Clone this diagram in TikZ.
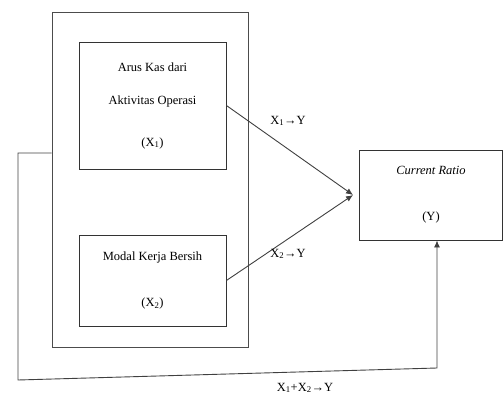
\documentclass[tikz,border=0pt]{standalone}
\usepackage{fontspec}
\setmainfont{Liberation Serif}
\usetikzlibrary{arrows.meta,positioning}

\tikzset{
  varbox/.style={draw=black!80, line width=.9pt, align=center,
                 inner sep=0pt, minimum width=147pt},
  link/.style={draw=black!75, line width=.9pt},
  tip/.style={-{Latex[length=7pt,width=6pt]}}
}

\begin{document}
\begin{tikzpicture}[x=1pt,y=-1pt,every node/.append style={font=\fontsize{12.5}{15}\selectfont}]
    \useasboundingbox (0,0) rectangle (504,399);

    % frame round both independent variables
    \node[varbox, draw=black!70, minimum width=196pt, minimum height=335pt] (frame) at (150,179.5) {};

    \node[varbox, minimum height=127pt] (ak) at (152.5,105.5)
      {Arus Kas dari\\[18pt]Aktivitas Operasi\\[27pt](X\textsubscript{1})};
    \node[varbox, minimum height=91pt] (mk) at (152.5,280.5)
      {Modal Kerja Bersih\\[31pt](X\textsubscript{2})};
    \node[varbox, minimum width=143pt, minimum height=90pt] (cr) at (431,195)
      {\textit{Current Ratio}\\[31pt](Y)};

    % partial effects
    \coordinate[left=6pt of cr] (join);
    \draw[link,tip] (ak.east) -- (join);
    \draw[link,tip] (mk.east) -- (join);
    \node (l1) at (288,121) {X\textsubscript{1}→Y};
    \node (l2) at (288,254) {X\textsubscript{2}→Y};

    % simultaneous effect
    \coordinate (fb) at (437,368);
    \draw[link,tip] ([yshift=26.5pt]frame.west) -- (18,153) -- (18,380) -- (fb) -- (fb |- cr.south);
    \node (l3) at (305,388) {X\textsubscript{1}+X\textsubscript{2}→Y};
\end{tikzpicture}
\end{document}
